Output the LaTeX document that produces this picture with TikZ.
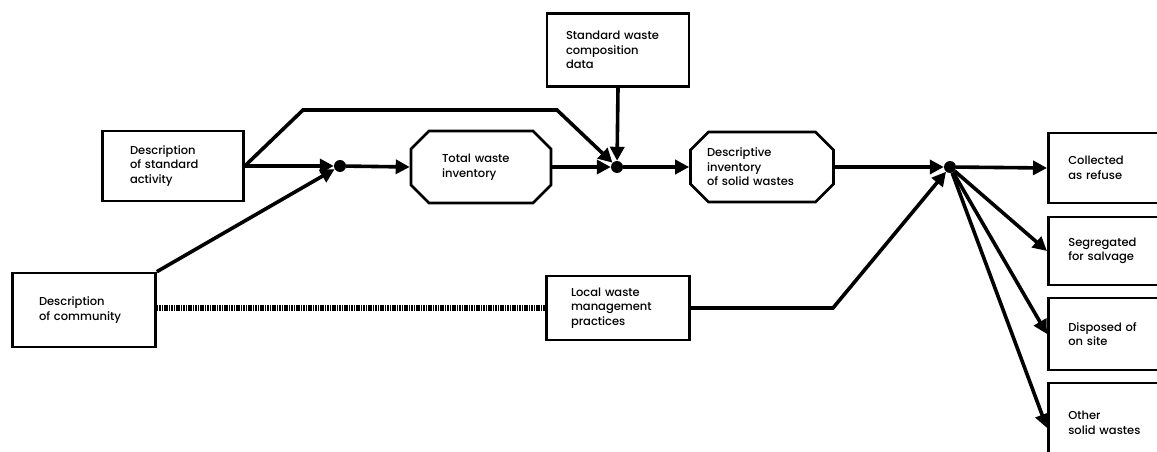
\documentclass[tikz,border=0pt]{standalone}
\usepackage{fontspec}
\setmainfont{Poppins}[UprightFont=* Medium]
\usetikzlibrary{shapes.misc,arrows.meta}
\begin{document}
\begin{tikzpicture}[x=1pt,y=-1pt,
  every node/.style={font=\fontsize{11.5}{14.5}\selectfont},
  boxnode/.style={draw,line width=2.6pt,rectangle,align=left,text width=#1,inner ysep=0pt},
  boxnode/.default=80pt,
  octnode/.style={draw,line width=2.6pt,chamfered rectangle,chamfered rectangle xsep=9pt,chamfered rectangle ysep=9pt,align=left,text width=#1},
  octnode/.default=80pt,
  outnode/.style={draw,line width=2.6pt,rectangle,anchor=west,align=left,text width=86pt,inner xsep=20pt,inner ysep=0pt},
  junction/.style={circle,fill,inner sep=0pt,minimum size=12pt},
  flow/.style={line width=3.6pt,line join=miter},
  tip/.style={-{Triangle[length=14pt,width=14pt]}},
  tiedline/.style={line width=5.5pt,dash pattern=on 1.6pt off 0.8pt}]
\useasboundingbox (0,0) rectangle (1157,452);

% input boxes
\node[boxnode=86pt,minimum width=141pt,minimum height=70pt] (sa) at (173,166) {Description\\of standard\\activity};
\node[boxnode=90pt,minimum width=143pt,minimum height=74pt] (comm) at (84,310) {Description\\of community};
\node[boxnode=104pt,minimum width=142pt,minimum height=73pt] (swc) at (618,50) {Standard waste\\composition\\data};
\node[boxnode=94pt,minimum width=143pt,minimum height=64pt] (lw) at (618,308) {Local waste\\management\\practices};

% processing stages
\node[octnode=78pt,minimum width=140pt,minimum height=72pt] (tw) at (481,167) {Total waste\\inventory};
\node[octnode=110pt,minimum width=143pt,minimum height=70pt] (di) at (762,167) {Descriptive\\inventory\\of solid wastes};

% junction points
\node[junction] (j1) at (340,166) {};
\node[junction] (j2) at (617,167) {};
\node[junction] (j3) at (950,167) {};

% outcome boxes
\node[outnode,minimum width=126pt,minimum height=70pt] (cr) at (1047,168) {Collected\\as refuse};
\node[outnode,minimum width=126pt,minimum height=68pt] (sg) at (1047,251) {Segregated\\for salvage};
\node[outnode,minimum width=126pt,minimum height=72pt] (ds) at (1047,334) {Disposed of\\on site};
\node[outnode,minimum width=126pt,minimum height=80pt] (ot) at (1047,423) {Other\\solid wastes};

% bends of the routed connectors
\coordinate (b1) at (303,110);
\coordinate (b2) at (557,110);
\coordinate (b3) at (833,308);

% connectors
\draw[flow,tip] (sa.east) -- (j1);
\draw[flow,tip] (comm.north east) -- (j1);
\draw[flow,tip] (j1) -- (tw.west);
\draw[flow,tip] (sa.east) -- (b1) -- (b2) -- (j2);
\draw[flow,tip] (tw.east) -- (j2);
\draw[flow,tip] (swc.south) -- (j2);
\draw[flow,tip] (j2) -- (di.west);
\draw[flow,tip] (di.east) -- (j3);
\draw[flow,tip] (lw.east) -- (b3) -- (j3);
\draw[flow,tip] (j3) -- (cr.west);
\draw[flow,tip] (j3) -- (sg.west);
\draw[flow,tip] (j3) -- (ds.west);
\draw[flow,tip] (j3) -- ([yshift=-5pt]ot.west);

% tie between community and local practices
\draw[tiedline] (comm.east |- lw.west) -- (lw.west);
\end{tikzpicture}
\end{document}
